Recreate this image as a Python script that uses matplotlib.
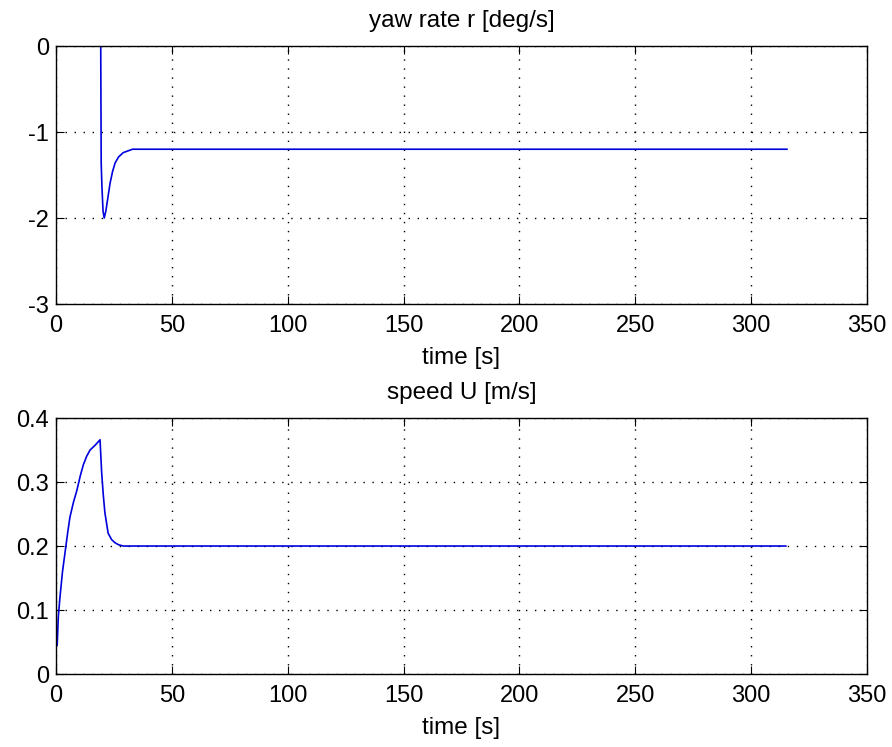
"""Yaw rate and speed response, MATLAB-style two-panel figure."""

import matplotlib
matplotlib.use("Agg")
import matplotlib.pyplot as plt

# --- yaw rate r [deg/s] ---
yaw_t = [0, 19.3, 19.5, 19.8, 20.3, 20.8, 21.5, 22.3, 23.3, 24.4, 25.5, 27.0, 29.0, 31.0, 33.0, 40.0, 100.0, 200.0, 315.5]
yaw_r = [0, 0, -1.36, -1.62, -1.92, -2.0, -1.92, -1.78, -1.6, -1.46, -1.36, -1.29, -1.24, -1.22, -1.2, -1.2, -1.2, -1.2, -1.2]

# --- speed U [m/s] ---
spd_t = [0.5, 1.0, 1.7, 2.8, 3.9, 5.0, 6.0, 7.5, 9.0, 10.5, 11.8, 13.2, 14.7, 17.0, 19.0, 19.7, 20.4, 21.1, 22.5, 24.0, 25.5, 27.0, 29.0, 40.0, 100.0, 200.0, 315.0]
spd_u = [0.045, 0.09, 0.12, 0.16, 0.19, 0.22, 0.245, 0.268, 0.287, 0.31, 0.327, 0.34, 0.35, 0.358, 0.366, 0.315, 0.28, 0.252, 0.22, 0.21, 0.205, 0.202, 0.2, 0.2, 0.2, 0.2, 0.2]

x_ticks = [0, 50, 100, 150, 200, 250, 300, 350]
yaw_ticks = [-3, -2, -1, 0]
spd_ticks = [0, 0.1, 0.2, 0.3, 0.4]

plt.rcParams["font.family"] = ["Liberation Sans", "DejaVu Sans"]

fig = plt.figure(figsize=(8.92, 7.47), dpi=100)
fig.patch.set_facecolor("white")

ax1 = fig.add_axes([0.0628, 0.593, 0.909, 0.3454])
ax2 = fig.add_axes([0.0628, 0.0977, 0.909, 0.3427])

panels = [
    (ax1, yaw_t, yaw_r, "yaw rate r [deg/s]", (-3, 0), yaw_ticks, ["-3", "-2", "-1", "0"]),
    (ax2, spd_t, spd_u, "speed U [m/s]", (0, 0.4), spd_ticks, ["0", "0.1", "0.2", "0.3", "0.4"]),
]

for ax, t, y, title, ylim, yticks, ylabels in panels:
    ax.plot(t, y, color="#0000dd", linewidth=1.2)
    ax.set_xlim(0, 350)
    ax.set_ylim(*ylim)
    ax.set_xticks(x_ticks)
    ax.set_yticks(yticks)
    ax.set_yticklabels(ylabels)
    ax.tick_params(direction="in", labelsize=17, length=6, top=True, right=True)
    ax.tick_params(axis="x", pad=8)
    ax.tick_params(axis="y", pad=5)
    ax.grid(True, linestyle=(0, (1, 5.5)), color="black", linewidth=1.0)
    ax.set_title(title, fontsize=17.5, pad=14)
    ax.set_xlabel("time [s]", fontsize=17.5, labelpad=7)
    for s in ax.spines.values():
        s.set_linewidth(1.0)
        s.set_zorder(5)

fig.savefig("out.png", dpi=100, facecolor="white")
